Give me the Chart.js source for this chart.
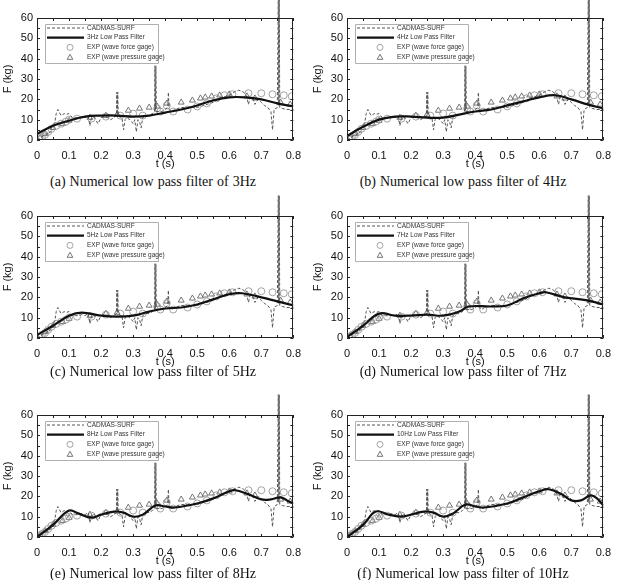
<!DOCTYPE html>
<html>
<head>
<meta charset="utf-8">
<script src="https://cdn.jsdelivr.net/npm/chart.js@4.4.0/dist/chart.umd.min.js"></script>
<style>
  body { margin: 0; background: #fff; width: 625px; height: 580px; overflow: hidden; position: relative; }
  .pane { position: absolute; width: 310px; }
  .cap { position: absolute; width: 306px; text-align: center; line-height: 16px; white-space: nowrap;
         font: 14px "Liberation Serif", "Times New Roman", serif; color: #111; word-spacing: 0.5px; }
</style>
</head>
<body>
<script>
// CADMAS-SURF numerical result [t (s), F (kg)]
const cadmas = [
  [0,0],[0.01,1],[0.02,2],[0.03,2.5],[0.035,4],[0.04,3.5],[0.045,6],[0.05,7],[0.055,8],[0.06,13],
  [0.065,15],[0.07,13.5],[0.075,12],[0.08,12.5],[0.085,13],[0.09,12.5],[0.1,13],[0.105,12],[0.11,11],
  [0.12,11],[0.13,11],[0.14,11.5],[0.15,11],[0.16,12],[0.165,7],[0.17,11],[0.18,11],[0.19,8],[0.2,11],
  [0.21,11.5],[0.22,11],[0.23,10],[0.24,11],[0.248,12],[0.249,23.5],[0.2505,12.5],[0.252,23.5],[0.2535,12],
  [0.26,11],[0.265,11],[0.27,5],[0.275,10],[0.28,11],[0.29,10],[0.3,8],[0.305,10],[0.31,4],[0.315,10],
  [0.32,9],[0.325,6],[0.33,11],[0.34,12],[0.35,12],[0.36,13],[0.367,14],[0.368,36.5],[0.3695,14.5],
  [0.371,36.5],[0.3725,14],[0.38,14],[0.39,14],[0.4,15],[0.408,16],[0.41,23.5],[0.412,15],[0.42,14],
  [0.43,15],[0.45,16],[0.47,16],[0.5,16],[0.52,17],[0.55,18.5],[0.57,20.5],[0.6,22],[0.62,24],[0.63,24.5],
  [0.645,23.5],[0.655,21],[0.66,17.5],[0.665,21],[0.675,20],[0.68,17.5],[0.69,20],[0.7,18.5],[0.71,17],
  [0.72,16],[0.73,14],[0.735,5],[0.74,15],[0.75,16],[0.753,70],[0.7545,17],[0.756,70],[0.7575,16],
  [0.765,15.5],[0.78,15],[0.8,15]
];

// Low pass filtered curves [t, F]
const lpf3 = [[0,3],[0.05,7],[0.1,9.5],[0.15,11.5],[0.2,12],[0.25,12],[0.3,11.5],[0.35,12],[0.4,13.5],
  [0.45,15],[0.5,17],[0.55,19.5],[0.6,21],[0.65,21],[0.7,20],[0.75,18],[0.8,16.5]];
const lpf4 = [[0,2],[0.05,6.5],[0.1,10],[0.15,11.5],[0.2,11.5],[0.25,11],[0.3,11],[0.35,12.5],[0.4,14],
  [0.45,15],[0.5,17],[0.55,19],[0.6,21],[0.65,22],[0.7,20],[0.75,17.5],[0.8,15.5]];
const lpf5 = [[0,1.5],[0.05,6],[0.1,11],[0.14,12.5],[0.2,11],[0.25,10.5],[0.3,11],[0.35,13],[0.4,14.5],
  [0.45,15],[0.5,16.5],[0.55,19],[0.6,21.5],[0.64,22],[0.7,20],[0.75,18],[0.8,16]];
const lpf7 = [[0,0.5],[0.05,6],[0.1,12],[0.15,11],[0.2,11],[0.25,11.5],[0.3,11],[0.35,13],[0.38,15.5],
  [0.45,15.5],[0.5,16],[0.55,19.5],[0.6,22],[0.62,22.5],[0.68,20],[0.75,18.5],[0.8,16.5]];
const lpf8 = [[0,0],[0.05,6],[0.1,13],[0.13,11.5],[0.17,9.5],[0.2,11],[0.24,12.5],[0.27,12],[0.3,10],
  [0.33,11],[0.37,15.5],[0.4,15],[0.43,14.5],[0.5,16.5],[0.55,19],[0.6,22.5],[0.62,23],[0.66,21],
  [0.7,18.5],[0.73,18.5],[0.76,19.5],[0.78,18],[0.8,16.5]];
const lpf10 = [[0,0],[0.05,6],[0.09,12.5],[0.13,11],[0.17,10],[0.2,11],[0.24,12.5],[0.27,12],[0.3,10],
  [0.33,11.5],[0.37,16],[0.4,15],[0.43,14.5],[0.5,16.5],[0.55,19.5],[0.6,22.5],[0.63,23.5],[0.67,21],
  [0.7,18],[0.73,18],[0.76,20.5],[0.78,19],[0.8,15.5]];

// Experiments
const expForce = [[0.005,0.5],[0.015,1.5],[0.025,2.5],[0.035,4],[0.045,5.5],[0.06,7],[0.075,8],[0.09,9],
  [0.1,10],[0.125,10.5],[0.17,10.5],[0.215,11.5],[0.26,12],[0.3,13],[0.33,12],[0.375,15.5],[0.385,14],
  [0.405,17],[0.425,14],[0.47,15],[0.5,16.5],[0.53,18],[0.56,20.5],[0.585,22],[0.61,22.5],[0.66,23],
  [0.7,23],[0.735,22.5],[0.77,22],[0.795,21.5]];
const expPress = [[0.01,1],[0.025,3],[0.05,6],[0.08,8],[0.1,9.5],[0.165,11],[0.215,12],[0.25,12.5],
  [0.285,14.5],[0.32,15.5],[0.35,16],[0.375,16.5],[0.405,18],[0.45,18.5],[0.485,19.5],[0.51,20.5],
  [0.525,21],[0.545,21.5],[0.57,22],[0.6,22.5],[0.655,21.5],[0.68,20.5],[0.76,18.5],[0.79,17.5]];

const panels = [
  { tag: '(a)', hz: 3,  data: lpf3,  left: 0,   top: 0,   pad: 18, capY: 182 },
  { tag: '(b)', hz: 4,  data: lpf4,  left: 310, top: 0,   pad: 18, capY: 182 },
  { tag: '(c)', hz: 5,  data: lpf5,  left: 0,   top: 190, pad: 26, capY: 372 },
  { tag: '(d)', hz: 7,  data: lpf7,  left: 310, top: 190, pad: 26, capY: 372 },
  { tag: '(e)', hz: 8,  data: lpf8,  left: 0,   top: 389, pad: 26, capY: 574 },
  { tag: '(f)', hz: 10, data: lpf10, left: 310, top: 389, pad: 26, capY: 574 }
];

const pts = arr => arr.map(([x, y]) => ({ x, y }));

// plot box with inward ticks on all four sides
function drawFrame(chart) {
  const { ctx, chartArea: a } = chart;
  const x = chart.scales.x, y = chart.scales.y;
  ctx.save();
  ctx.strokeStyle = '#222';
  ctx.lineWidth = 1;
  ctx.setLineDash([]);
  ctx.beginPath();
  for (let i = 0; i <= 16; i++) {
    const px = Math.round(x.getPixelForValue(i * 0.05)) + 0.5;
    ctx.moveTo(px, a.bottom); ctx.lineTo(px, a.bottom - 3);
    ctx.moveTo(px, a.top); ctx.lineTo(px, a.top + 3);
  }
  for (let i = 0; i <= 12; i++) {
    const py = Math.round(y.getPixelForValue(i * 5)) + 0.5;
    ctx.moveTo(a.left, py); ctx.lineTo(a.left + 3, py);
    ctx.moveTo(a.right, py); ctx.lineTo(a.right - 3, py);
  }
  ctx.rect(Math.round(a.left) + 0.5, Math.round(a.top) + 0.5,
           Math.round(a.right - a.left) - 1, Math.round(a.bottom - a.top) - 1);
  ctx.stroke();
  ctx.restore();
}

// boxed legend in the upper left of the plot
function drawLegend(chart) {
  const { ctx, chartArea: a } = chart;
  const ds = chart.data.datasets;
  const bx = Math.round(a.left) + 8, by = Math.round(a.top) + 6, bw = 113, bh = 39;
  ctx.save();
  ctx.fillStyle = '#fff';
  ctx.strokeStyle = '#b0b0b0';
  ctx.lineWidth = 1;
  ctx.beginPath();
  ctx.rect(bx + 0.5, by + 0.5, bw, bh);
  ctx.fill(); ctx.stroke();
  const rows = [ds[1], ds[0], ds[2], ds[3]];
  ctx.font = '6.5px "Liberation Sans", Arial, sans-serif';
  ctx.textBaseline = 'middle';
  rows.forEach((d, i) => {
    const ry = by + 4 + i * 9.7;
    ctx.strokeStyle = d.borderColor;
    ctx.lineWidth = d.borderWidth;
    if (d.showLine) {
      ctx.setLineDash(d.borderDash || []);
      ctx.beginPath(); ctx.moveTo(bx + 2, ry); ctx.lineTo(bx + 39, ry); ctx.stroke();
      ctx.setLineDash([]);
    } else {
      ctx.beginPath();
      if (d.pointStyle === 'triangle') {
        const r = 2.8;
        ctx.moveTo(bx + 25, ry - r); ctx.lineTo(bx + 25 + r, ry + r * 0.8); ctx.lineTo(bx + 25 - r, ry + r * 0.8);
        ctx.closePath();
      } else {
        ctx.arc(bx + 25, ry, 3, 0, Math.PI * 2);
      }
      ctx.stroke();
    }
    ctx.fillStyle = '#333';
    ctx.fillText(d.label, bx + 42, ry);
  });
  ctx.restore();
}

const overlay = {
  id: 'overlay',
  afterDatasetsDraw(chart) {
    drawLegend(chart);
    drawFrame(chart);
  }
};

const axisFont = { family: '"Liberation Sans", Arial, sans-serif', size: 11 };

panels.forEach(p => {
  const h = p.pad + 122 + 32;
  const div = document.createElement('div');
  div.className = 'pane';
  div.style.left = p.left + 'px';
  div.style.top = p.top + 'px';
  div.style.height = h + 'px';
  const cv = document.createElement('canvas');
  div.appendChild(cv);
  document.body.appendChild(div);

  const cap = document.createElement('div');
  cap.className = 'cap';
  cap.style.left = p.left + 'px';
  cap.style.top = (p.capY - 8) + 'px';
  cap.textContent = p.tag + ' Numerical low pass filter of ' + p.hz + 'Hz';
  document.body.appendChild(cap);

  new Chart(cv, {
    type: 'scatter',
    data: {
      datasets: [
        { label: p.hz + 'Hz Low Pass Filter', data: pts(p.data), showLine: true, borderColor: '#111',
          borderWidth: 2.2, pointRadius: 0, tension: 0.4 },
        { label: 'CADMAS-SURF', data: pts(cadmas), showLine: true, borderColor: '#555', borderWidth: 1,
          borderDash: [3, 2], pointRadius: 0, tension: 0, clip: false },
        { label: 'EXP (wave force gage)', data: pts(expForce), pointStyle: 'circle', pointRadius: 3.5,
          borderColor: '#999', borderWidth: 0.9, backgroundColor: 'rgba(0,0,0,0)' },
        { label: 'EXP (wave pressure gage)', data: pts(expPress), pointStyle: 'triangle', pointRadius: 3.4,
          borderColor: '#666', borderWidth: 0.9, backgroundColor: 'rgba(0,0,0,0)' }
      ]
    },
    options: {
      responsive: true,
      maintainAspectRatio: false,
      animation: false,
      events: [],
      layout: { padding: { top: p.pad, right: 7, left: 0, bottom: 0 } },
      plugins: { legend: { display: false }, tooltip: { enabled: false } },
      scales: {
        x: {
          type: 'linear', min: 0, max: 0.8,
          afterFit(s) { s.height = 32; },
          ticks: { stepSize: 0.1, padding: 9, color: '#111', maxRotation: 0, font: axisFont },
          grid: { display: false, drawTicks: false },
          border: { display: false },
          title: { display: true, text: 't (s)', color: '#111', padding: { top: 0, bottom: 1 }, font: axisFont }
        },
        y: {
          min: 0, max: 60,
          afterFit(s) { s.width = 37; },
          ticks: { stepSize: 10, padding: 4, color: '#111', font: axisFont },
          grid: { display: false, drawTicks: false },
          border: { display: false },
          title: { display: true, text: 'F (kg)', color: '#111', padding: { top: 1, bottom: 0 }, font: axisFont }
        }
      }
    },
    plugins: [overlay]
  });
});
</script>
</body>
</html>
